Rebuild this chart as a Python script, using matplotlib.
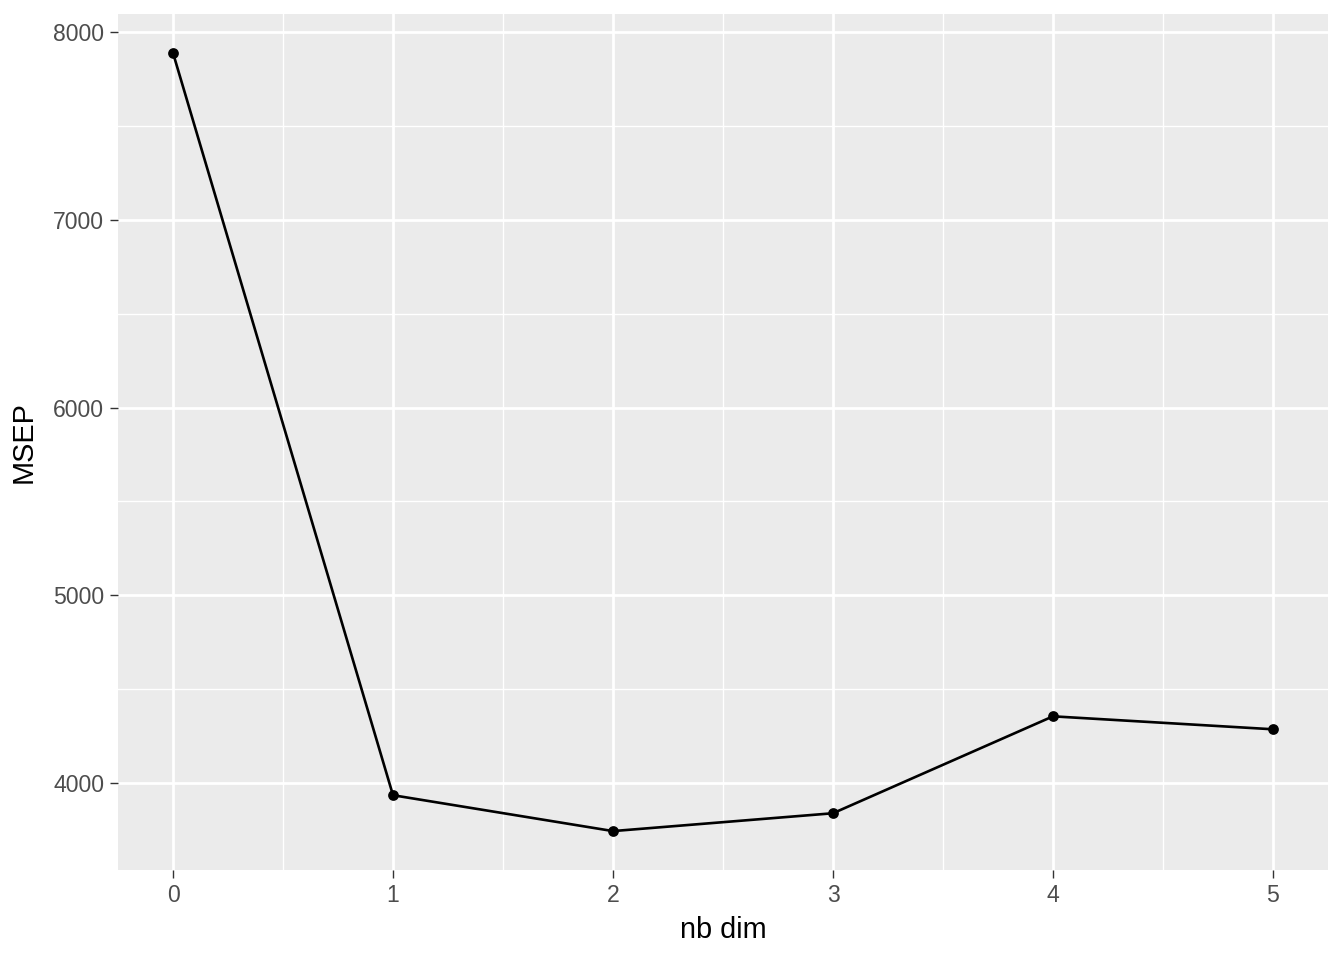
import matplotlib
matplotlib.use("Agg")
import matplotlib.pyplot as plt
import numpy as np

# MSEP by number of dimensions
nb_dim = [0, 1, 2, 3, 4, 5]
msep = [7888, 3936, 3745, 3840, 4356, 4287]

x_ticks = [0, 1, 2, 3, 4, 5]
y_ticks = [4000, 5000, 6000, 7000, 8000]
x_minor = [0.5, 1.5, 2.5, 3.5, 4.5]
y_minor = [4500, 5500, 6500, 7500]

plt.rcParams['font.family'] = ['Liberation Sans', 'DejaVu Sans']

fig = plt.figure(figsize=(6.72, 4.8), dpi=200)
ax = fig.add_axes([118/1344, 1 - 870/960, (1328 - 118)/1344, (870 - 14)/960])
ax.set_facecolor('#EBEBEB')

# grid
for xm in x_minor:
    ax.axvline(xm, color='white', lw=0.5, zorder=1)
for ym in y_minor:
    ax.axhline(ym, color='white', lw=0.5, zorder=1)
for xt in x_ticks:
    ax.axvline(xt, color='white', lw=1.0, zorder=1)
for yt in y_ticks:
    ax.axhline(yt, color='white', lw=1.0, zorder=1)

ax.plot(nb_dim, msep, color='black', lw=0.95, zorder=3)
ax.scatter(nb_dim, msep, color='black', s=15, zorder=4, linewidths=0)

rng = max(nb_dim) - min(nb_dim)
ax.set_xlim(min(nb_dim) - 0.05*rng, max(nb_dim) + 0.05*rng)
yr = max(msep) - min(msep)
ax.set_ylim(min(msep) - 0.05*yr, max(msep) + 0.05*yr)

ax.set_xticks(x_ticks)
ax.set_yticks(y_ticks)
ax.set_xticklabels([str(v) for v in x_ticks])
ax.set_yticklabels([str(v) for v in y_ticks])
ax.tick_params(axis='both', length=2.75, width=0.5, color='#333333',
               labelcolor='#4D4D4D', labelsize=8.3, pad=2.2)
for s in ax.spines.values():
    s.set_visible(False)

ax.set_xlabel('nb dim', fontsize=10.4, color='black', labelpad=3.5)
ax.set_ylabel('MSEP', fontsize=10.4, color='black', labelpad=5.5)

fig.savefig('out.png', dpi=200)
